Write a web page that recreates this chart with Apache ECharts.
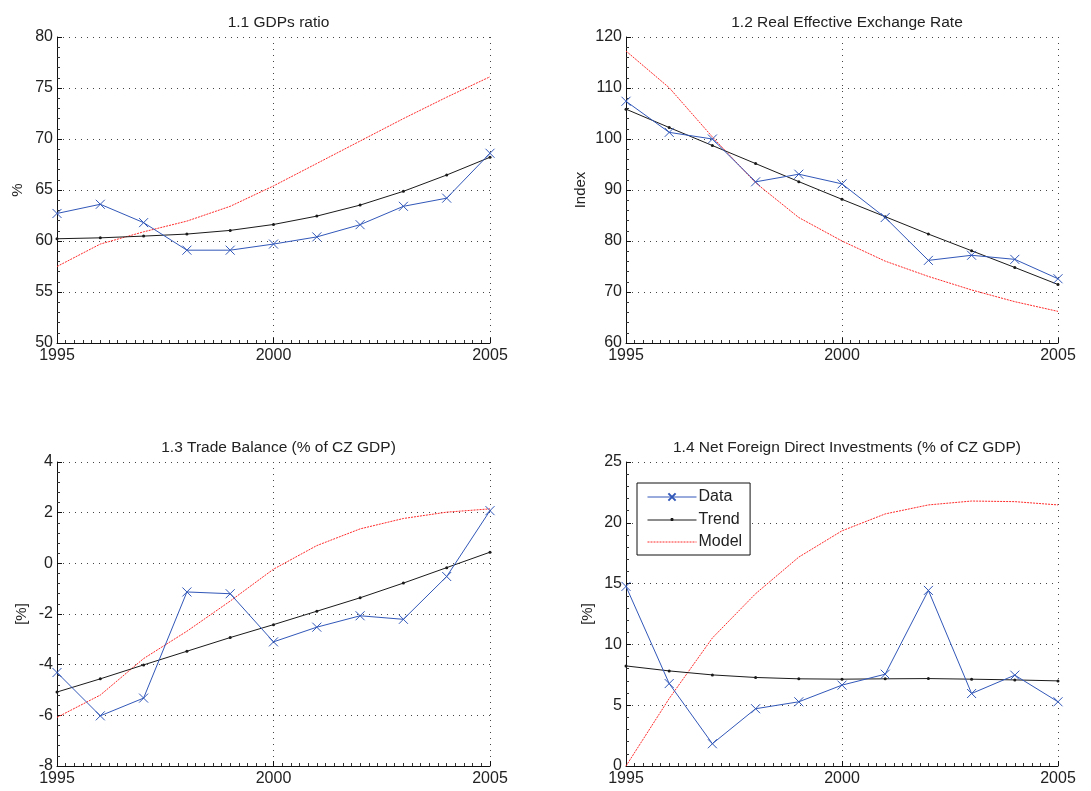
<!DOCTYPE html>
<html>
<head>
<meta charset="utf-8">
<script src="https://cdn.jsdelivr.net/npm/echarts@6/dist/echarts.min.js"></script>
<style>
  html, body { margin: 0; padding: 0; background: #fff; }
  #chart { width: 1091px; height: 791px; }
</style>
</head>
<body>
<div id="chart"></div>
<script>
// Years on the horizontal axis
const years = [1995, 1996, 1997, 1998, 1999, 2000, 2001, 2002, 2003, 2004, 2005];

// 1.1 GDPs ratio (%)
const gdpData  = [62.7, 63.6, 61.8, 59.1, 59.1, 59.7, 60.4, 61.6, 63.4, 64.2, 68.6];
const gdpTrend = [60.22, 60.31, 60.48, 60.68, 61.04, 61.62, 62.44, 63.52, 64.87, 66.47, 68.21];
const gdpModel = [57.5, 59.7, 60.9, 61.95, 63.4, 65.4, 67.6, 69.8, 72.0, 74.1, 76.1];

// 1.2 Real Effective Exchange Rate (index)
const reerData  = [107.4, 101.3, 100.0, 91.6, 93.1, 91.2, 84.6, 76.2, 77.2, 76.4, 72.6];
const reerTrend = [105.85, 102.25, 98.72, 95.18, 91.64, 88.17, 84.77, 81.36, 78.09, 74.81, 71.47];
const reerModel = [117.25, 110.05, 100.4, 91.4, 84.6, 80.0, 76.05, 73.05, 70.4, 68.1, 66.2];

// 1.3 Trade Balance (% of CZ GDP)
const tbData  = [-4.31, -6.02, -5.32, -1.13, -1.2, -3.1, -2.52, -2.07, -2.21, -0.52, 2.08];
const tbTrend = [-5.08, -4.56, -4.01, -3.47, -2.93, -2.42, -1.89, -1.36, -0.78, -0.17, 0.44];
const tbModel = [-6.08, -5.2, -3.76, -2.68, -1.49, -0.23, 0.7, 1.36, 1.77, 2.02, 2.15];

// 1.4 Net Foreign Direct Investments (% of CZ GDP)
const fdiData  = [14.77, 6.78, 1.83, 4.71, 5.28, 6.65, 7.55, 14.44, 5.96, 7.47, 5.28];
const fdiTrend = [8.23, 7.82, 7.49, 7.28, 7.17, 7.14, 7.17, 7.19, 7.14, 7.08, 7.0];
const fdiModel = [0.0, 5.55, 10.53, 14.17, 17.18, 19.34, 20.73, 21.47, 21.79, 21.74, 21.47];

// Panel titles, axis names and y ranges
const panelTitles = ['1.1 GDPs ratio', '1.2 Real Effective Exchange Rate',
                     '1.3 Trade Balance (% of CZ GDP)', '1.4 Net Foreign Direct Investments (% of CZ GDP)'];
const yNames = ['%', 'Index', '[%]', '[%]'];
const yMin = [50, 60, -8, 0];
const yMax = [80, 120, 4, 25];
const yStep = [5, 10, 2, 5];
const seriesNames = ['Data', 'Trend', 'Model'];

const panels = [
  [gdpData, gdpTrend, gdpModel],
  [reerData, reerTrend, reerModel],
  [tbData, tbTrend, tbModel],
  [fdiData, fdiTrend, fdiModel]
];

const FONT = '"Liberation Sans", Arial, Helvetica, sans-serif';
const BLUE = '#3157b8';
const RED = '#ff2a2a';
const BLACK = '#1a1a1a';

const gridBoxes = [
  { left: 57, top: 37, width: 433, height: 306 },
  { left: 626, top: 37, width: 432, height: 306 },
  { left: 57, top: 462, width: 433, height: 304 },
  { left: 626, top: 462, width: 432, height: 304 }
];
const nameGaps = [32, 38, 28, 31];

const pairs = vals => years.map((y, i) => [y, vals[i]]);

const grids = [], xAxes = [], yAxes = [], series = [], titles = [];

gridBoxes.forEach((g, k) => {
  grids.push(Object.assign({ containLabel: false }, g));
  titles.push({
    text: panelTitles[k],
    left: g.left + g.width / 2,
    top: g.top - 27,
    textAlign: 'center',
    textStyle: { fontFamily: FONT, fontSize: 15.5, fontWeight: 'normal', color: '#222' }
  });
  const gridLine = { show: true, lineStyle: { color: '#444', type: [1, 5], width: 1 } };
  xAxes.push({
    type: 'value', gridIndex: k, min: 1995, max: 2005, interval: 5,
    axisLine: { show: true, onZero: false, lineStyle: { color: '#111', width: 1 } },
    axisTick: { show: true, inside: true, length: 5, lineStyle: { color: '#111' } },
    minorTick: { show: true, splitNumber: 25, length: 3, lineStyle: { color: '#333' } },
    axisLabel: { fontFamily: FONT, fontSize: 16, color: '#222', margin: 5, formatter: v => String(v) },
    splitLine: gridLine
  });
  yAxes.push({
    type: 'value', gridIndex: k, min: yMin[k], max: yMax[k], interval: yStep[k],
    name: yNames[k], nameLocation: 'middle', nameGap: nameGaps[k],
    nameTextStyle: { fontFamily: FONT, fontSize: 15, color: '#222' },
    axisLine: { show: true, onZero: false, lineStyle: { color: '#111', width: 1 } },
    axisTick: { show: true, inside: true, length: 5, lineStyle: { color: '#111' } },
    minorTick: { show: true, splitNumber: 5, length: 3, lineStyle: { color: '#333' } },
    axisLabel: { fontFamily: FONT, fontSize: 16, color: '#222', margin: 4 },
    splitLine: gridLine
  });

  const [d, t, m] = panels[k];
  series.push({
    name: seriesNames[2], type: 'line', xAxisIndex: k, yAxisIndex: k,
    data: pairs(m), showSymbol: false, symbol: 'none',
    lineStyle: { color: RED, width: 1, type: [2, 1] },
    itemStyle: { color: RED }, z: 2, animation: false
  });
  series.push({
    name: seriesNames[1], type: 'line', xAxisIndex: k, yAxisIndex: k,
    data: pairs(t), symbol: 'circle', symbolSize: 3,
    lineStyle: { color: BLACK, width: 1 },
    itemStyle: { color: BLACK }, z: 3, animation: false
  });
  series.push({
    name: seriesNames[0], type: 'line', xAxisIndex: k, yAxisIndex: k,
    data: pairs(d), symbol: 'path://M0,0L10,10M10,0L0,10', symbolSize: 9,
    lineStyle: { color: BLUE, width: 1 },
    itemStyle: { color: BLUE, borderColor: BLUE, borderWidth: 1 }, z: 4, animation: false
  });
});

const chart = echarts.init(document.getElementById('chart'), null, { renderer: 'canvas' });
chart.setOption({
  backgroundColor: '#fff',
  animation: false,
  title: titles,
  grid: grids,
  xAxis: xAxes,
  yAxis: yAxes,
  legend: {
    data: [
      { name: 'Data' },
      {
        name: 'Trend',
        icon: 'path://M0,5L49,5M23.5,3.5L25.5,3.5L25.5,5.5L23.5,5.5Z',
        itemStyle: { color: BLACK, borderColor: BLACK, borderWidth: 1 }
      },
      { name: 'Model', itemStyle: { opacity: 0 } }
    ],
    orient: 'vertical',
    left: 637, top: 483,
    itemWidth: 49, itemHeight: 9, itemGap: 6.5,
    padding: [6, 8, 5, 10],
    backgroundColor: '#fff',
    borderColor: '#111', borderWidth: 1,
    lineStyle: { width: 1 },
    textStyle: { fontFamily: FONT, fontSize: 16, color: '#222', padding: [0, 0, 0, -3] },
    selectedMode: false
  },
  series: series
});
</script>
</body>
</html>
